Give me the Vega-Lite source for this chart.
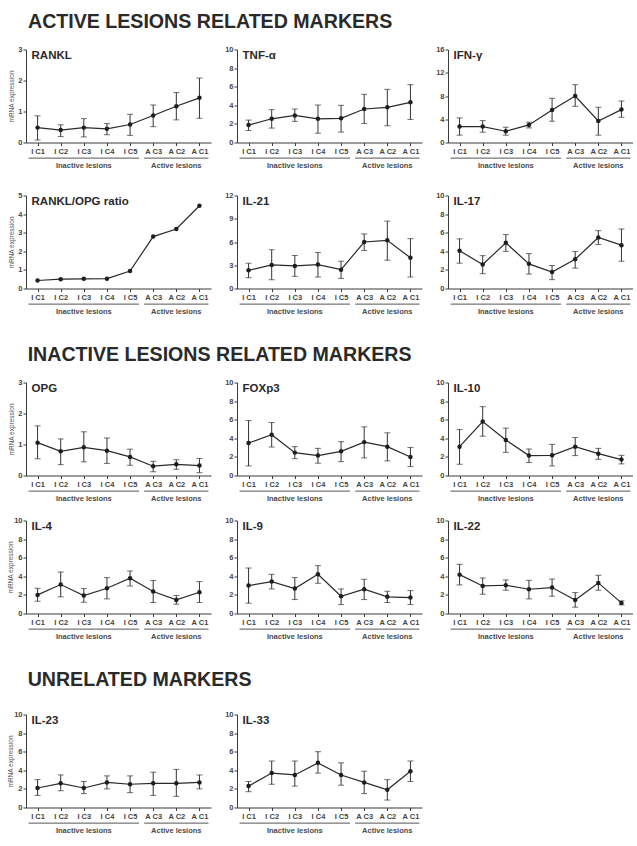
{
  "$schema": "https://vega.github.io/schema/vega-lite/v6.json",
  "padding": {"left": 7, "top": 11.5, "right": 0, "bottom": 0},
  "background": "white",
  "datasets": {
    "g": [
      {"g": "Inactive lesions", "a": "I C1", "b": "I C5", "c": "I C3"},
      {"g": "Active lesions", "a": "A C3", "b": "A C1", "c": "A C2"}
    ],
    "d": [
      {"m": "RANKL", "s": "I C1", "v": 0.48, "lo": 0.08, "hi": 0.86},
      {"m": "RANKL", "s": "I C2", "v": 0.40, "lo": 0.19, "hi": 0.57},
      {"m": "RANKL", "s": "I C3", "v": 0.48, "lo": 0.18, "hi": 0.77},
      {"m": "RANKL", "s": "I C4", "v": 0.44, "lo": 0.25, "hi": 0.61},
      {"m": "RANKL", "s": "I C5", "v": 0.58, "lo": 0.23, "hi": 0.91},
      {"m": "RANKL", "s": "A C3", "v": 0.87, "lo": 0.51, "hi": 1.21},
      {"m": "RANKL", "s": "A C2", "v": 1.17, "lo": 0.73, "hi": 1.61},
      {"m": "RANKL", "s": "A C1", "v": 1.44, "lo": 0.78, "hi": 2.08},
      {"m": "TNF", "s": "I C1", "v": 1.87, "lo": 1.29, "hi": 2.41},
      {"m": "TNF", "s": "I C2", "v": 2.55, "lo": 1.55, "hi": 3.53},
      {"m": "TNF", "s": "I C3", "v": 2.91, "lo": 2.27, "hi": 3.60},
      {"m": "TNF", "s": "I C4", "v": 2.55, "lo": 1.00, "hi": 4.03},
      {"m": "TNF", "s": "I C5", "v": 2.60, "lo": 1.12, "hi": 4.00},
      {"m": "TNF", "s": "A C3", "v": 3.60, "lo": 2.05, "hi": 5.18},
      {"m": "TNF", "s": "A C2", "v": 3.78, "lo": 1.80, "hi": 5.72},
      {"m": "TNF", "s": "A C1", "v": 4.32, "lo": 2.48, "hi": 6.22},
      {"m": "IFN", "s": "I C1", "v": 2.74, "lo": 1.26, "hi": 4.23},
      {"m": "IFN", "s": "I C2", "v": 2.74, "lo": 1.77, "hi": 3.77},
      {"m": "IFN", "s": "I C3", "v": 1.94, "lo": 1.26, "hi": 2.63},
      {"m": "IFN", "s": "I C4", "v": 3.03, "lo": 2.51, "hi": 3.49},
      {"m": "IFN", "s": "I C5", "v": 5.60, "lo": 3.66, "hi": 7.60},
      {"m": "IFN", "s": "A C3", "v": 8.00, "lo": 6.23, "hi": 9.94},
      {"m": "IFN", "s": "A C2", "v": 3.71, "lo": 1.26, "hi": 6.06},
      {"m": "IFN", "s": "A C1", "v": 5.66, "lo": 4.34, "hi": 7.14},
      {"m": "RATIO", "s": "I C1", "v": 0.43},
      {"m": "RATIO", "s": "I C2", "v": 0.50},
      {"m": "RATIO", "s": "I C3", "v": 0.52},
      {"m": "RATIO", "s": "I C4", "v": 0.53},
      {"m": "RATIO", "s": "I C5", "v": 0.94},
      {"m": "RATIO", "s": "A C3", "v": 2.79},
      {"m": "RATIO", "s": "A C2", "v": 3.20},
      {"m": "RATIO", "s": "A C1", "v": 4.45},
      {"m": "IL21", "s": "I C1", "v": 2.35, "lo": 1.39, "hi": 3.26},
      {"m": "IL21", "s": "I C2", "v": 3.04, "lo": 1.13, "hi": 5.00},
      {"m": "IL21", "s": "I C3", "v": 2.91, "lo": 1.57, "hi": 4.26},
      {"m": "IL21", "s": "I C4", "v": 3.09, "lo": 1.48, "hi": 4.65},
      {"m": "IL21", "s": "I C5", "v": 2.43, "lo": 1.30, "hi": 3.52},
      {"m": "IL21", "s": "A C3", "v": 6.00, "lo": 4.91, "hi": 7.04},
      {"m": "IL21", "s": "A C2", "v": 6.22, "lo": 3.65, "hi": 8.70},
      {"m": "IL21", "s": "A C1", "v": 3.96, "lo": 1.48, "hi": 6.43},
      {"m": "IL17", "s": "I C1", "v": 4.06, "lo": 2.72, "hi": 5.34},
      {"m": "IL17", "s": "I C2", "v": 2.58, "lo": 1.59, "hi": 3.53},
      {"m": "IL17", "s": "I C3", "v": 4.91, "lo": 3.99, "hi": 5.80},
      {"m": "IL17", "s": "I C4", "v": 2.65, "lo": 1.55, "hi": 3.75},
      {"m": "IL17", "s": "I C5", "v": 1.77, "lo": 0.95, "hi": 2.47},
      {"m": "IL17", "s": "A C3", "v": 3.14, "lo": 2.19, "hi": 3.99},
      {"m": "IL17", "s": "A C2", "v": 5.48, "lo": 4.73, "hi": 6.22},
      {"m": "IL17", "s": "A C1", "v": 4.66, "lo": 2.93, "hi": 6.40},
      {"m": "OPG", "s": "I C1", "v": 1.06, "lo": 0.54, "hi": 1.60},
      {"m": "OPG", "s": "I C2", "v": 0.78, "lo": 0.35, "hi": 1.18},
      {"m": "OPG", "s": "I C3", "v": 0.91, "lo": 0.44, "hi": 1.41},
      {"m": "OPG", "s": "I C4", "v": 0.80, "lo": 0.39, "hi": 1.21},
      {"m": "OPG", "s": "I C5", "v": 0.60, "lo": 0.33, "hi": 0.85},
      {"m": "OPG", "s": "A C3", "v": 0.30, "lo": 0.12, "hi": 0.46},
      {"m": "OPG", "s": "A C2", "v": 0.36, "lo": 0.20, "hi": 0.51},
      {"m": "OPG", "s": "A C1", "v": 0.32, "lo": 0.09, "hi": 0.55},
      {"m": "FOXP3", "s": "I C1", "v": 3.49, "lo": 1.03, "hi": 5.91},
      {"m": "FOXP3", "s": "I C2", "v": 4.38, "lo": 3.06, "hi": 5.69},
      {"m": "FOXP3", "s": "I C3", "v": 2.46, "lo": 1.81, "hi": 3.10},
      {"m": "FOXP3", "s": "I C4", "v": 2.14, "lo": 1.32, "hi": 2.92},
      {"m": "FOXP3", "s": "I C5", "v": 2.60, "lo": 1.49, "hi": 3.63},
      {"m": "FOXP3", "s": "A C3", "v": 3.59, "lo": 1.89, "hi": 5.23},
      {"m": "FOXP3", "s": "A C2", "v": 3.10, "lo": 1.57, "hi": 4.59},
      {"m": "FOXP3", "s": "A C1", "v": 1.99, "lo": 0.96, "hi": 3.02},
      {"m": "IL10", "s": "I C1", "v": 3.10, "lo": 1.21, "hi": 4.95},
      {"m": "IL10", "s": "I C2", "v": 5.80, "lo": 4.23, "hi": 7.40},
      {"m": "IL10", "s": "I C3", "v": 3.81, "lo": 2.49, "hi": 5.09},
      {"m": "IL10", "s": "I C4", "v": 2.14, "lo": 1.39, "hi": 2.85},
      {"m": "IL10", "s": "I C5", "v": 2.17, "lo": 1.03, "hi": 3.35},
      {"m": "IL10", "s": "A C3", "v": 3.10, "lo": 2.14, "hi": 4.09},
      {"m": "IL10", "s": "A C2", "v": 2.35, "lo": 1.74, "hi": 2.92},
      {"m": "IL10", "s": "A C1", "v": 1.71, "lo": 1.25, "hi": 2.17},
      {"m": "IL4", "s": "I C1", "v": 2.00, "lo": 1.32, "hi": 2.71},
      {"m": "IL4", "s": "I C2", "v": 3.11, "lo": 1.79, "hi": 4.46},
      {"m": "IL4", "s": "I C3", "v": 1.93, "lo": 1.21, "hi": 2.68},
      {"m": "IL4", "s": "I C4", "v": 2.71, "lo": 1.57, "hi": 3.86},
      {"m": "IL4", "s": "I C5", "v": 3.79, "lo": 2.96, "hi": 4.57},
      {"m": "IL4", "s": "A C3", "v": 2.36, "lo": 1.18, "hi": 3.54},
      {"m": "IL4", "s": "A C2", "v": 1.46, "lo": 1.00, "hi": 1.93},
      {"m": "IL4", "s": "A C1", "v": 2.29, "lo": 1.18, "hi": 3.43},
      {"m": "IL9", "s": "I C1", "v": 3.00, "lo": 1.11, "hi": 4.89},
      {"m": "IL9", "s": "I C2", "v": 3.43, "lo": 2.64, "hi": 4.21},
      {"m": "IL9", "s": "I C3", "v": 2.68, "lo": 1.50, "hi": 3.86},
      {"m": "IL9", "s": "I C4", "v": 4.21, "lo": 3.25, "hi": 5.14},
      {"m": "IL9", "s": "I C5", "v": 1.86, "lo": 0.96, "hi": 2.64},
      {"m": "IL9", "s": "A C3", "v": 2.61, "lo": 1.50, "hi": 3.68},
      {"m": "IL9", "s": "A C2", "v": 1.79, "lo": 1.18, "hi": 2.39},
      {"m": "IL9", "s": "A C1", "v": 1.71, "lo": 0.96, "hi": 2.46},
      {"m": "IL22", "s": "I C1", "v": 4.18, "lo": 3.07, "hi": 5.29},
      {"m": "IL22", "s": "I C2", "v": 2.96, "lo": 2.07, "hi": 3.82},
      {"m": "IL22", "s": "I C3", "v": 3.04, "lo": 2.50, "hi": 3.61},
      {"m": "IL22", "s": "I C4", "v": 2.61, "lo": 1.57, "hi": 3.57},
      {"m": "IL22", "s": "I C5", "v": 2.79, "lo": 1.86, "hi": 3.71},
      {"m": "IL22", "s": "A C3", "v": 1.46, "lo": 0.68, "hi": 2.25},
      {"m": "IL22", "s": "A C2", "v": 3.29, "lo": 2.50, "hi": 4.11},
      {"m": "IL22", "s": "A C1", "v": 1.14, "lo": 0.93, "hi": 1.36},
      {"m": "IL23", "s": "I C1", "v": 2.10, "lo": 1.30, "hi": 3.00},
      {"m": "IL23", "s": "I C2", "v": 2.60, "lo": 1.80, "hi": 3.50},
      {"m": "IL23", "s": "I C3", "v": 2.10, "lo": 1.50, "hi": 2.80},
      {"m": "IL23", "s": "I C4", "v": 2.70, "lo": 2.00, "hi": 3.40},
      {"m": "IL23", "s": "I C5", "v": 2.50, "lo": 1.60, "hi": 3.40},
      {"m": "IL23", "s": "A C3", "v": 2.60, "lo": 1.30, "hi": 3.80},
      {"m": "IL23", "s": "A C2", "v": 2.60, "lo": 1.20, "hi": 4.10},
      {"m": "IL23", "s": "A C1", "v": 2.70, "lo": 2.00, "hi": 3.50},
      {"m": "IL33", "s": "I C1", "v": 2.30, "lo": 1.70, "hi": 2.80},
      {"m": "IL33", "s": "I C2", "v": 3.70, "lo": 2.50, "hi": 5.00},
      {"m": "IL33", "s": "I C3", "v": 3.50, "lo": 2.30, "hi": 5.00},
      {"m": "IL33", "s": "I C4", "v": 4.80, "lo": 3.70, "hi": 6.00},
      {"m": "IL33", "s": "I C5", "v": 3.50, "lo": 2.40, "hi": 4.80},
      {"m": "IL33", "s": "A C3", "v": 2.70, "lo": 1.50, "hi": 3.90},
      {"m": "IL33", "s": "A C2", "v": 1.90, "lo": 0.80, "hi": 3.00},
      {"m": "IL33", "s": "A C1", "v": 3.90, "lo": 2.80, "hi": 5.00}
    ]
  },
  "config": {
    "view": {"stroke": null},
    "font": "Liberation Sans",
    "axis": {"grid": false, "domainColor": "#3a3a3a", "tickColor": "#3a3a3a", "tickSize": 3, "labelFontSize": 7.5, "labelFontWeight": "bold", "labelColor": "#444444", "labelFont": "Liberation Sans"},
    "axisX": {"labelAngle": 0, "labelPadding": 2, "labelOverlap": false},
    "axisY": {"labelPadding": 1, "titleFontSize": 6.5, "titleFontWeight": "normal", "titleColor": "#555555", "titlePadding": 0, "minExtent": 12, "titleFont": "Liberation Sans"},
    "title": {"anchor": "start", "fontSize": 19.6, "fontWeight": "bold", "color": "#2a2a2a", "offset": 13, "dx": 20, "font": "Liberation Sans"}
  },
  "spacing": 28,
  "vconcat": [
    {
      "title": "ACTIVE LESIONS RELATED MARKERS",
      "spacing": 21,
      "vconcat": [
        {"spacing": 13, "hconcat": [
          {"width": 185, "height": 93, "resolve": {"scale": {"y": "independent"}},
           "encoding": {"x": {"field": "s", "type": "nominal", "title": null, "scale": {"type": "point", "domain": ["I C1","I C2","I C3","I C4","I C5","A C3","A C2","A C1"], "padding": 0.5}}},
           "layer": [
             {"data": {"name": "d"}, "transform": [{"filter": "datum.m === 'RANKL'"}],
              "encoding": {"y": {"field": "v", "type": "quantitative", "title": "mRNA expression", "scale": {"domain": [0, 3], "nice": false}, "axis": {"values": [0, 1, 2, 3]}}},
              "layer": [
                {"mark": {"type": "errorbar", "ticks": {"size": 6, "color": "#333333"}, "rule": {"color": "#333333"}}, "encoding": {"y": {"field": "lo", "type": "quantitative", "title": "mRNA expression"}, "y2": {"field": "hi"}}},
                {"mark": {"type": "line", "color": "#2a2a2a", "strokeWidth": 1.2}},
                {"mark": {"type": "point", "filled": true, "size": 20, "color": "#1e1e1e", "opacity": 1}}
              ]},
             {"data": {"name": "g"}, "encoding": {"y": {"datum": -0.168, "type": "quantitative", "scale": {"domain": [0, 1]}, "axis": null}},
              "layer": [
                {"mark": {"type": "rule", "color": "#555555", "xOffset": -9, "x2Offset": 9}, "encoding": {"x": {"field": "a", "type": "nominal", "title": null}, "x2": {"field": "b"}}},
                {"mark": {"type": "text", "fontSize": 7.5, "fontWeight": "bold", "color": "#4a4a4a", "baseline": "middle"}, "encoding": {"x": {"field": "c", "type": "nominal", "title": null}, "y": {"datum": -0.256, "type": "quantitative", "scale": {"domain": [0, 1]}, "axis": null}, "text": {"field": "g"}}}
              ]},
             {"data": {"values": [{"t": "RANKL"}]}, "mark": {"type": "text", "align": "left", "baseline": "top", "dx": -6, "fontSize": 11.5, "fontWeight": "bold", "color": "#2a2a2a"},
              "encoding": {"x": {"datum": "I C1", "type": "nominal"}, "y": {"datum": 1, "type": "quantitative", "scale": {"domain": [0, 1]}, "axis": null}, "text": {"field": "t"}}}
           ]},
          {"width": 185, "height": 93, "resolve": {"scale": {"y": "independent"}},
           "encoding": {"x": {"field": "s", "type": "nominal", "title": null, "scale": {"type": "point", "domain": ["I C1","I C2","I C3","I C4","I C5","A C3","A C2","A C1"], "padding": 0.5}}},
           "layer": [
             {"data": {"name": "d"}, "transform": [{"filter": "datum.m === 'TNF'"}],
              "encoding": {"y": {"field": "v", "type": "quantitative", "title": null, "scale": {"domain": [0, 10], "nice": false}, "axis": {"values": [0, 2, 4, 6, 8, 10]}}},
              "layer": [
                {"mark": {"type": "errorbar", "ticks": {"size": 6, "color": "#333333"}, "rule": {"color": "#333333"}}, "encoding": {"y": {"field": "lo", "type": "quantitative", "title": null}, "y2": {"field": "hi"}}},
                {"mark": {"type": "line", "color": "#2a2a2a", "strokeWidth": 1.2}},
                {"mark": {"type": "point", "filled": true, "size": 20, "color": "#1e1e1e", "opacity": 1}}
              ]},
             {"data": {"name": "g"}, "encoding": {"y": {"datum": -0.168, "type": "quantitative", "scale": {"domain": [0, 1]}, "axis": null}},
              "layer": [
                {"mark": {"type": "rule", "color": "#555555", "xOffset": -9, "x2Offset": 9}, "encoding": {"x": {"field": "a", "type": "nominal", "title": null}, "x2": {"field": "b"}}},
                {"mark": {"type": "text", "fontSize": 7.5, "fontWeight": "bold", "color": "#4a4a4a", "baseline": "middle"}, "encoding": {"x": {"field": "c", "type": "nominal", "title": null}, "y": {"datum": -0.256, "type": "quantitative", "scale": {"domain": [0, 1]}, "axis": null}, "text": {"field": "g"}}}
              ]},
             {"data": {"values": [{"t": "TNF-α"}]}, "mark": {"type": "text", "align": "left", "baseline": "top", "dx": -6, "fontSize": 11.5, "fontWeight": "bold", "color": "#2a2a2a"},
              "encoding": {"x": {"datum": "I C1", "type": "nominal"}, "y": {"datum": 1, "type": "quantitative", "scale": {"domain": [0, 1]}, "axis": null}, "text": {"field": "t"}}}
           ]},
          {"width": 185, "height": 93, "resolve": {"scale": {"y": "independent"}},
           "encoding": {"x": {"field": "s", "type": "nominal", "title": null, "scale": {"type": "point", "domain": ["I C1","I C2","I C3","I C4","I C5","A C3","A C2","A C1"], "padding": 0.5}}},
           "layer": [
             {"data": {"name": "d"}, "transform": [{"filter": "datum.m === 'IFN'"}],
              "encoding": {"y": {"field": "v", "type": "quantitative", "title": null, "scale": {"domain": [0, 16], "nice": false}, "axis": {"values": [0, 4, 8, 12, 16]}}},
              "layer": [
                {"mark": {"type": "errorbar", "ticks": {"size": 6, "color": "#333333"}, "rule": {"color": "#333333"}}, "encoding": {"y": {"field": "lo", "type": "quantitative", "title": null}, "y2": {"field": "hi"}}},
                {"mark": {"type": "line", "color": "#2a2a2a", "strokeWidth": 1.2}},
                {"mark": {"type": "point", "filled": true, "size": 20, "color": "#1e1e1e", "opacity": 1}}
              ]},
             {"data": {"name": "g"}, "encoding": {"y": {"datum": -0.168, "type": "quantitative", "scale": {"domain": [0, 1]}, "axis": null}},
              "layer": [
                {"mark": {"type": "rule", "color": "#555555", "xOffset": -9, "x2Offset": 9}, "encoding": {"x": {"field": "a", "type": "nominal", "title": null}, "x2": {"field": "b"}}},
                {"mark": {"type": "text", "fontSize": 7.5, "fontWeight": "bold", "color": "#4a4a4a", "baseline": "middle"}, "encoding": {"x": {"field": "c", "type": "nominal", "title": null}, "y": {"datum": -0.256, "type": "quantitative", "scale": {"domain": [0, 1]}, "axis": null}, "text": {"field": "g"}}}
              ]},
             {"data": {"values": [{"t": "IFN-γ"}]}, "mark": {"type": "text", "align": "left", "baseline": "top", "dx": -6, "fontSize": 11.5, "fontWeight": "bold", "color": "#2a2a2a"},
              "encoding": {"x": {"datum": "I C1", "type": "nominal"}, "y": {"datum": 1, "type": "quantitative", "scale": {"domain": [0, 1]}, "axis": null}, "text": {"field": "t"}}}
           ]}
        ]},
        {"spacing": 13, "hconcat": [
          {"width": 185, "height": 93, "resolve": {"scale": {"y": "independent"}},
           "encoding": {"x": {"field": "s", "type": "nominal", "title": null, "scale": {"type": "point", "domain": ["I C1","I C2","I C3","I C4","I C5","A C3","A C2","A C1"], "padding": 0.5}}},
           "layer": [
             {"data": {"name": "d"}, "transform": [{"filter": "datum.m === 'RATIO'"}],
              "encoding": {"y": {"field": "v", "type": "quantitative", "title": "mRNA expression", "scale": {"domain": [0, 5], "nice": false}, "axis": {"values": [0, 1, 2, 3, 4, 5]}}},
              "layer": [
                {"mark": {"type": "line", "color": "#2a2a2a", "strokeWidth": 1.2}},
                {"mark": {"type": "point", "filled": true, "size": 20, "color": "#1e1e1e", "opacity": 1}}
              ]},
             {"data": {"name": "g"}, "encoding": {"y": {"datum": -0.168, "type": "quantitative", "scale": {"domain": [0, 1]}, "axis": null}},
              "layer": [
                {"mark": {"type": "rule", "color": "#555555", "xOffset": -9, "x2Offset": 9}, "encoding": {"x": {"field": "a", "type": "nominal", "title": null}, "x2": {"field": "b"}}},
                {"mark": {"type": "text", "fontSize": 7.5, "fontWeight": "bold", "color": "#4a4a4a", "baseline": "middle"}, "encoding": {"x": {"field": "c", "type": "nominal", "title": null}, "y": {"datum": -0.256, "type": "quantitative", "scale": {"domain": [0, 1]}, "axis": null}, "text": {"field": "g"}}}
              ]},
             {"data": {"values": [{"t": "RANKL/OPG ratio"}]}, "mark": {"type": "text", "align": "left", "baseline": "top", "dx": -6, "fontSize": 11.5, "fontWeight": "bold", "color": "#2a2a2a"},
              "encoding": {"x": {"datum": "I C1", "type": "nominal"}, "y": {"datum": 1, "type": "quantitative", "scale": {"domain": [0, 1]}, "axis": null}, "text": {"field": "t"}}}
           ]},
          {"width": 185, "height": 93, "resolve": {"scale": {"y": "independent"}},
           "encoding": {"x": {"field": "s", "type": "nominal", "title": null, "scale": {"type": "point", "domain": ["I C1","I C2","I C3","I C4","I C5","A C3","A C2","A C1"], "padding": 0.5}}},
           "layer": [
             {"data": {"name": "d"}, "transform": [{"filter": "datum.m === 'IL21'"}],
              "encoding": {"y": {"field": "v", "type": "quantitative", "title": null, "scale": {"domain": [0, 12], "nice": false}, "axis": {"values": [0, 3, 6, 9, 12]}}},
              "layer": [
                {"mark": {"type": "errorbar", "ticks": {"size": 6, "color": "#333333"}, "rule": {"color": "#333333"}}, "encoding": {"y": {"field": "lo", "type": "quantitative", "title": null}, "y2": {"field": "hi"}}},
                {"mark": {"type": "line", "color": "#2a2a2a", "strokeWidth": 1.2}},
                {"mark": {"type": "point", "filled": true, "size": 20, "color": "#1e1e1e", "opacity": 1}}
              ]},
             {"data": {"name": "g"}, "encoding": {"y": {"datum": -0.168, "type": "quantitative", "scale": {"domain": [0, 1]}, "axis": null}},
              "layer": [
                {"mark": {"type": "rule", "color": "#555555", "xOffset": -9, "x2Offset": 9}, "encoding": {"x": {"field": "a", "type": "nominal", "title": null}, "x2": {"field": "b"}}},
                {"mark": {"type": "text", "fontSize": 7.5, "fontWeight": "bold", "color": "#4a4a4a", "baseline": "middle"}, "encoding": {"x": {"field": "c", "type": "nominal", "title": null}, "y": {"datum": -0.256, "type": "quantitative", "scale": {"domain": [0, 1]}, "axis": null}, "text": {"field": "g"}}}
              ]},
             {"data": {"values": [{"t": "IL-21"}]}, "mark": {"type": "text", "align": "left", "baseline": "top", "dx": -6, "fontSize": 11.5, "fontWeight": "bold", "color": "#2a2a2a"},
              "encoding": {"x": {"datum": "I C1", "type": "nominal"}, "y": {"datum": 1, "type": "quantitative", "scale": {"domain": [0, 1]}, "axis": null}, "text": {"field": "t"}}}
           ]},
          {"width": 185, "height": 93, "resolve": {"scale": {"y": "independent"}},
           "encoding": {"x": {"field": "s", "type": "nominal", "title": null, "scale": {"type": "point", "domain": ["I C1","I C2","I C3","I C4","I C5","A C3","A C2","A C1"], "padding": 0.5}}},
           "layer": [
             {"data": {"name": "d"}, "transform": [{"filter": "datum.m === 'IL17'"}],
              "encoding": {"y": {"field": "v", "type": "quantitative", "title": null, "scale": {"domain": [0, 10], "nice": false}, "axis": {"values": [0, 2, 4, 6, 8, 10]}}},
              "layer": [
                {"mark": {"type": "errorbar", "ticks": {"size": 6, "color": "#333333"}, "rule": {"color": "#333333"}}, "encoding": {"y": {"field": "lo", "type": "quantitative", "title": null}, "y2": {"field": "hi"}}},
                {"mark": {"type": "line", "color": "#2a2a2a", "strokeWidth": 1.2}},
                {"mark": {"type": "point", "filled": true, "size": 20, "color": "#1e1e1e", "opacity": 1}}
              ]},
             {"data": {"name": "g"}, "encoding": {"y": {"datum": -0.168, "type": "quantitative", "scale": {"domain": [0, 1]}, "axis": null}},
              "layer": [
                {"mark": {"type": "rule", "color": "#555555", "xOffset": -9, "x2Offset": 9}, "encoding": {"x": {"field": "a", "type": "nominal", "title": null}, "x2": {"field": "b"}}},
                {"mark": {"type": "text", "fontSize": 7.5, "fontWeight": "bold", "color": "#4a4a4a", "baseline": "middle"}, "encoding": {"x": {"field": "c", "type": "nominal", "title": null}, "y": {"datum": -0.256, "type": "quantitative", "scale": {"domain": [0, 1]}, "axis": null}, "text": {"field": "g"}}}
              ]},
             {"data": {"values": [{"t": "IL-17"}]}, "mark": {"type": "text", "align": "left", "baseline": "top", "dx": -6, "fontSize": 11.5, "fontWeight": "bold", "color": "#2a2a2a"},
              "encoding": {"x": {"datum": "I C1", "type": "nominal"}, "y": {"datum": 1, "type": "quantitative", "scale": {"domain": [0, 1]}, "axis": null}, "text": {"field": "t"}}}
           ]}
        ]}
      ]
    },
    {
      "title": "INACTIVE LESIONS RELATED MARKERS",
      "spacing": 13,
      "vconcat": [
        {"spacing": 13, "hconcat": [
          {"width": 185, "height": 93, "resolve": {"scale": {"y": "independent"}},
           "encoding": {"x": {"field": "s", "type": "nominal", "title": null, "scale": {"type": "point", "domain": ["I C1","I C2","I C3","I C4","I C5","A C3","A C2","A C1"], "padding": 0.5}}},
           "layer": [
             {"data": {"name": "d"}, "transform": [{"filter": "datum.m === 'OPG'"}],
              "encoding": {"y": {"field": "v", "type": "quantitative", "title": "mRNA expression", "scale": {"domain": [0, 3], "nice": false}, "axis": {"values": [0, 1, 2, 3]}}},
              "layer": [
                {"mark": {"type": "errorbar", "ticks": {"size": 6, "color": "#333333"}, "rule": {"color": "#333333"}}, "encoding": {"y": {"field": "lo", "type": "quantitative", "title": "mRNA expression"}, "y2": {"field": "hi"}}},
                {"mark": {"type": "line", "color": "#2a2a2a", "strokeWidth": 1.2}},
                {"mark": {"type": "point", "filled": true, "size": 20, "color": "#1e1e1e", "opacity": 1}}
              ]},
             {"data": {"name": "g"}, "encoding": {"y": {"datum": -0.168, "type": "quantitative", "scale": {"domain": [0, 1]}, "axis": null}},
              "layer": [
                {"mark": {"type": "rule", "color": "#555555", "xOffset": -9, "x2Offset": 9}, "encoding": {"x": {"field": "a", "type": "nominal", "title": null}, "x2": {"field": "b"}}},
                {"mark": {"type": "text", "fontSize": 7.5, "fontWeight": "bold", "color": "#4a4a4a", "baseline": "middle"}, "encoding": {"x": {"field": "c", "type": "nominal", "title": null}, "y": {"datum": -0.256, "type": "quantitative", "scale": {"domain": [0, 1]}, "axis": null}, "text": {"field": "g"}}}
              ]},
             {"data": {"values": [{"t": "OPG"}]}, "mark": {"type": "text", "align": "left", "baseline": "top", "dx": -6, "fontSize": 11.5, "fontWeight": "bold", "color": "#2a2a2a"},
              "encoding": {"x": {"datum": "I C1", "type": "nominal"}, "y": {"datum": 1, "type": "quantitative", "scale": {"domain": [0, 1]}, "axis": null}, "text": {"field": "t"}}}
           ]},
          {"width": 185, "height": 93, "resolve": {"scale": {"y": "independent"}},
           "encoding": {"x": {"field": "s", "type": "nominal", "title": null, "scale": {"type": "point", "domain": ["I C1","I C2","I C3","I C4","I C5","A C3","A C2","A C1"], "padding": 0.5}}},
           "layer": [
             {"data": {"name": "d"}, "transform": [{"filter": "datum.m === 'FOXP3'"}],
              "encoding": {"y": {"field": "v", "type": "quantitative", "title": null, "scale": {"domain": [0, 10], "nice": false}, "axis": {"values": [0, 2, 4, 6, 8, 10]}}},
              "layer": [
                {"mark": {"type": "errorbar", "ticks": {"size": 6, "color": "#333333"}, "rule": {"color": "#333333"}}, "encoding": {"y": {"field": "lo", "type": "quantitative", "title": null}, "y2": {"field": "hi"}}},
                {"mark": {"type": "line", "color": "#2a2a2a", "strokeWidth": 1.2}},
                {"mark": {"type": "point", "filled": true, "size": 20, "color": "#1e1e1e", "opacity": 1}}
              ]},
             {"data": {"name": "g"}, "encoding": {"y": {"datum": -0.168, "type": "quantitative", "scale": {"domain": [0, 1]}, "axis": null}},
              "layer": [
                {"mark": {"type": "rule", "color": "#555555", "xOffset": -9, "x2Offset": 9}, "encoding": {"x": {"field": "a", "type": "nominal", "title": null}, "x2": {"field": "b"}}},
                {"mark": {"type": "text", "fontSize": 7.5, "fontWeight": "bold", "color": "#4a4a4a", "baseline": "middle"}, "encoding": {"x": {"field": "c", "type": "nominal", "title": null}, "y": {"datum": -0.256, "type": "quantitative", "scale": {"domain": [0, 1]}, "axis": null}, "text": {"field": "g"}}}
              ]},
             {"data": {"values": [{"t": "FOXp3"}]}, "mark": {"type": "text", "align": "left", "baseline": "top", "dx": -6, "fontSize": 11.5, "fontWeight": "bold", "color": "#2a2a2a"},
              "encoding": {"x": {"datum": "I C1", "type": "nominal"}, "y": {"datum": 1, "type": "quantitative", "scale": {"domain": [0, 1]}, "axis": null}, "text": {"field": "t"}}}
           ]},
          {"width": 185, "height": 93, "resolve": {"scale": {"y": "independent"}},
           "encoding": {"x": {"field": "s", "type": "nominal", "title": null, "scale": {"type": "point", "domain": ["I C1","I C2","I C3","I C4","I C5","A C3","A C2","A C1"], "padding": 0.5}}},
           "layer": [
             {"data": {"name": "d"}, "transform": [{"filter": "datum.m === 'IL10'"}],
              "encoding": {"y": {"field": "v", "type": "quantitative", "title": null, "scale": {"domain": [0, 10], "nice": false}, "axis": {"values": [0, 2, 4, 6, 8, 10]}}},
              "layer": [
                {"mark": {"type": "errorbar", "ticks": {"size": 6, "color": "#333333"}, "rule": {"color": "#333333"}}, "encoding": {"y": {"field": "lo", "type": "quantitative", "title": null}, "y2": {"field": "hi"}}},
                {"mark": {"type": "line", "color": "#2a2a2a", "strokeWidth": 1.2}},
                {"mark": {"type": "point", "filled": true, "size": 20, "color": "#1e1e1e", "opacity": 1}}
              ]},
             {"data": {"name": "g"}, "encoding": {"y": {"datum": -0.168, "type": "quantitative", "scale": {"domain": [0, 1]}, "axis": null}},
              "layer": [
                {"mark": {"type": "rule", "color": "#555555", "xOffset": -9, "x2Offset": 9}, "encoding": {"x": {"field": "a", "type": "nominal", "title": null}, "x2": {"field": "b"}}},
                {"mark": {"type": "text", "fontSize": 7.5, "fontWeight": "bold", "color": "#4a4a4a", "baseline": "middle"}, "encoding": {"x": {"field": "c", "type": "nominal", "title": null}, "y": {"datum": -0.256, "type": "quantitative", "scale": {"domain": [0, 1]}, "axis": null}, "text": {"field": "g"}}}
              ]},
             {"data": {"values": [{"t": "IL-10"}]}, "mark": {"type": "text", "align": "left", "baseline": "top", "dx": -6, "fontSize": 11.5, "fontWeight": "bold", "color": "#2a2a2a"},
              "encoding": {"x": {"datum": "I C1", "type": "nominal"}, "y": {"datum": 1, "type": "quantitative", "scale": {"domain": [0, 1]}, "axis": null}, "text": {"field": "t"}}}
           ]}
        ]},
        {"spacing": 13, "hconcat": [
          {"width": 185, "height": 93, "resolve": {"scale": {"y": "independent"}},
           "encoding": {"x": {"field": "s", "type": "nominal", "title": null, "scale": {"type": "point", "domain": ["I C1","I C2","I C3","I C4","I C5","A C3","A C2","A C1"], "padding": 0.5}}},
           "layer": [
             {"data": {"name": "d"}, "transform": [{"filter": "datum.m === 'IL4'"}],
              "encoding": {"y": {"field": "v", "type": "quantitative", "title": "mRNA expression", "scale": {"domain": [0, 10], "nice": false}, "axis": {"values": [0, 2, 4, 6, 8, 10]}}},
              "layer": [
                {"mark": {"type": "errorbar", "ticks": {"size": 6, "color": "#333333"}, "rule": {"color": "#333333"}}, "encoding": {"y": {"field": "lo", "type": "quantitative", "title": "mRNA expression"}, "y2": {"field": "hi"}}},
                {"mark": {"type": "line", "color": "#2a2a2a", "strokeWidth": 1.2}},
                {"mark": {"type": "point", "filled": true, "size": 20, "color": "#1e1e1e", "opacity": 1}}
              ]},
             {"data": {"name": "g"}, "encoding": {"y": {"datum": -0.168, "type": "quantitative", "scale": {"domain": [0, 1]}, "axis": null}},
              "layer": [
                {"mark": {"type": "rule", "color": "#555555", "xOffset": -9, "x2Offset": 9}, "encoding": {"x": {"field": "a", "type": "nominal", "title": null}, "x2": {"field": "b"}}},
                {"mark": {"type": "text", "fontSize": 7.5, "fontWeight": "bold", "color": "#4a4a4a", "baseline": "middle"}, "encoding": {"x": {"field": "c", "type": "nominal", "title": null}, "y": {"datum": -0.256, "type": "quantitative", "scale": {"domain": [0, 1]}, "axis": null}, "text": {"field": "g"}}}
              ]},
             {"data": {"values": [{"t": "IL-4"}]}, "mark": {"type": "text", "align": "left", "baseline": "top", "dx": -6, "fontSize": 11.5, "fontWeight": "bold", "color": "#2a2a2a"},
              "encoding": {"x": {"datum": "I C1", "type": "nominal"}, "y": {"datum": 1, "type": "quantitative", "scale": {"domain": [0, 1]}, "axis": null}, "text": {"field": "t"}}}
           ]},
          {"width": 185, "height": 93, "resolve": {"scale": {"y": "independent"}},
           "encoding": {"x": {"field": "s", "type": "nominal", "title": null, "scale": {"type": "point", "domain": ["I C1","I C2","I C3","I C4","I C5","A C3","A C2","A C1"], "padding": 0.5}}},
           "layer": [
             {"data": {"name": "d"}, "transform": [{"filter": "datum.m === 'IL9'"}],
              "encoding": {"y": {"field": "v", "type": "quantitative", "title": null, "scale": {"domain": [0, 10], "nice": false}, "axis": {"values": [0, 2, 4, 6, 8, 10]}}},
              "layer": [
                {"mark": {"type": "errorbar", "ticks": {"size": 6, "color": "#333333"}, "rule": {"color": "#333333"}}, "encoding": {"y": {"field": "lo", "type": "quantitative", "title": null}, "y2": {"field": "hi"}}},
                {"mark": {"type": "line", "color": "#2a2a2a", "strokeWidth": 1.2}},
                {"mark": {"type": "point", "filled": true, "size": 20, "color": "#1e1e1e", "opacity": 1}}
              ]},
             {"data": {"name": "g"}, "encoding": {"y": {"datum": -0.168, "type": "quantitative", "scale": {"domain": [0, 1]}, "axis": null}},
              "layer": [
                {"mark": {"type": "rule", "color": "#555555", "xOffset": -9, "x2Offset": 9}, "encoding": {"x": {"field": "a", "type": "nominal", "title": null}, "x2": {"field": "b"}}},
                {"mark": {"type": "text", "fontSize": 7.5, "fontWeight": "bold", "color": "#4a4a4a", "baseline": "middle"}, "encoding": {"x": {"field": "c", "type": "nominal", "title": null}, "y": {"datum": -0.256, "type": "quantitative", "scale": {"domain": [0, 1]}, "axis": null}, "text": {"field": "g"}}}
              ]},
             {"data": {"values": [{"t": "IL-9"}]}, "mark": {"type": "text", "align": "left", "baseline": "top", "dx": -6, "fontSize": 11.5, "fontWeight": "bold", "color": "#2a2a2a"},
              "encoding": {"x": {"datum": "I C1", "type": "nominal"}, "y": {"datum": 1, "type": "quantitative", "scale": {"domain": [0, 1]}, "axis": null}, "text": {"field": "t"}}}
           ]},
          {"width": 185, "height": 93, "resolve": {"scale": {"y": "independent"}},
           "encoding": {"x": {"field": "s", "type": "nominal", "title": null, "scale": {"type": "point", "domain": ["I C1","I C2","I C3","I C4","I C5","A C3","A C2","A C1"], "padding": 0.5}}},
           "layer": [
             {"data": {"name": "d"}, "transform": [{"filter": "datum.m === 'IL22'"}],
              "encoding": {"y": {"field": "v", "type": "quantitative", "title": null, "scale": {"domain": [0, 10], "nice": false}, "axis": {"values": [0, 2, 4, 6, 8, 10]}}},
              "layer": [
                {"mark": {"type": "errorbar", "ticks": {"size": 6, "color": "#333333"}, "rule": {"color": "#333333"}}, "encoding": {"y": {"field": "lo", "type": "quantitative", "title": null}, "y2": {"field": "hi"}}},
                {"mark": {"type": "line", "color": "#2a2a2a", "strokeWidth": 1.2}},
                {"mark": {"type": "point", "filled": true, "size": 20, "color": "#1e1e1e", "opacity": 1}}
              ]},
             {"data": {"name": "g"}, "encoding": {"y": {"datum": -0.168, "type": "quantitative", "scale": {"domain": [0, 1]}, "axis": null}},
              "layer": [
                {"mark": {"type": "rule", "color": "#555555", "xOffset": -9, "x2Offset": 9}, "encoding": {"x": {"field": "a", "type": "nominal", "title": null}, "x2": {"field": "b"}}},
                {"mark": {"type": "text", "fontSize": 7.5, "fontWeight": "bold", "color": "#4a4a4a", "baseline": "middle"}, "encoding": {"x": {"field": "c", "type": "nominal", "title": null}, "y": {"datum": -0.256, "type": "quantitative", "scale": {"domain": [0, 1]}, "axis": null}, "text": {"field": "g"}}}
              ]},
             {"data": {"values": [{"t": "IL-22"}]}, "mark": {"type": "text", "align": "left", "baseline": "top", "dx": -6, "fontSize": 11.5, "fontWeight": "bold", "color": "#2a2a2a"},
              "encoding": {"x": {"datum": "I C1", "type": "nominal"}, "y": {"datum": 1, "type": "quantitative", "scale": {"domain": [0, 1]}, "axis": null}, "text": {"field": "t"}}}
           ]}
        ]}
      ]
    },
    {
      "title": {"text": "UNRELATED MARKERS", "offset": 19.5},
      "vconcat": [
        {"spacing": 13, "hconcat": [
          {"width": 185, "height": 93, "resolve": {"scale": {"y": "independent"}},
           "encoding": {"x": {"field": "s", "type": "nominal", "title": null, "scale": {"type": "point", "domain": ["I C1","I C2","I C3","I C4","I C5","A C3","A C2","A C1"], "padding": 0.5}}},
           "layer": [
             {"data": {"name": "d"}, "transform": [{"filter": "datum.m === 'IL23'"}],
              "encoding": {"y": {"field": "v", "type": "quantitative", "title": "mRNA expression", "scale": {"domain": [0, 10], "nice": false}, "axis": {"values": [0, 2, 4, 6, 8, 10]}}},
              "layer": [
                {"mark": {"type": "errorbar", "ticks": {"size": 6, "color": "#333333"}, "rule": {"color": "#333333"}}, "encoding": {"y": {"field": "lo", "type": "quantitative", "title": "mRNA expression"}, "y2": {"field": "hi"}}},
                {"mark": {"type": "line", "color": "#2a2a2a", "strokeWidth": 1.2}},
                {"mark": {"type": "point", "filled": true, "size": 20, "color": "#1e1e1e", "opacity": 1}}
              ]},
             {"data": {"name": "g"}, "encoding": {"y": {"datum": -0.168, "type": "quantitative", "scale": {"domain": [0, 1]}, "axis": null}},
              "layer": [
                {"mark": {"type": "rule", "color": "#555555", "xOffset": -9, "x2Offset": 9}, "encoding": {"x": {"field": "a", "type": "nominal", "title": null}, "x2": {"field": "b"}}},
                {"mark": {"type": "text", "fontSize": 7.5, "fontWeight": "bold", "color": "#4a4a4a", "baseline": "middle"}, "encoding": {"x": {"field": "c", "type": "nominal", "title": null}, "y": {"datum": -0.256, "type": "quantitative", "scale": {"domain": [0, 1]}, "axis": null}, "text": {"field": "g"}}}
              ]},
             {"data": {"values": [{"t": "IL-23"}]}, "mark": {"type": "text", "align": "left", "baseline": "top", "dx": -6, "fontSize": 11.5, "fontWeight": "bold", "color": "#2a2a2a"},
              "encoding": {"x": {"datum": "I C1", "type": "nominal"}, "y": {"datum": 1, "type": "quantitative", "scale": {"domain": [0, 1]}, "axis": null}, "text": {"field": "t"}}}
           ]},
          {"width": 185, "height": 93, "resolve": {"scale": {"y": "independent"}},
           "encoding": {"x": {"field": "s", "type": "nominal", "title": null, "scale": {"type": "point", "domain": ["I C1","I C2","I C3","I C4","I C5","A C3","A C2","A C1"], "padding": 0.5}}},
           "layer": [
             {"data": {"name": "d"}, "transform": [{"filter": "datum.m === 'IL33'"}],
              "encoding": {"y": {"field": "v", "type": "quantitative", "title": null, "scale": {"domain": [0, 10], "nice": false}, "axis": {"values": [0, 2, 4, 6, 8, 10]}}},
              "layer": [
                {"mark": {"type": "errorbar", "ticks": {"size": 6, "color": "#333333"}, "rule": {"color": "#333333"}}, "encoding": {"y": {"field": "lo", "type": "quantitative", "title": null}, "y2": {"field": "hi"}}},
                {"mark": {"type": "line", "color": "#2a2a2a", "strokeWidth": 1.2}},
                {"mark": {"type": "point", "filled": true, "size": 20, "color": "#1e1e1e", "opacity": 1}}
              ]},
             {"data": {"name": "g"}, "encoding": {"y": {"datum": -0.168, "type": "quantitative", "scale": {"domain": [0, 1]}, "axis": null}},
              "layer": [
                {"mark": {"type": "rule", "color": "#555555", "xOffset": -9, "x2Offset": 9}, "encoding": {"x": {"field": "a", "type": "nominal", "title": null}, "x2": {"field": "b"}}},
                {"mark": {"type": "text", "fontSize": 7.5, "fontWeight": "bold", "color": "#4a4a4a", "baseline": "middle"}, "encoding": {"x": {"field": "c", "type": "nominal", "title": null}, "y": {"datum": -0.256, "type": "quantitative", "scale": {"domain": [0, 1]}, "axis": null}, "text": {"field": "g"}}}
              ]},
             {"data": {"values": [{"t": "IL-33"}]}, "mark": {"type": "text", "align": "left", "baseline": "top", "dx": -6, "fontSize": 11.5, "fontWeight": "bold", "color": "#2a2a2a"},
              "encoding": {"x": {"datum": "I C1", "type": "nominal"}, "y": {"datum": 1, "type": "quantitative", "scale": {"domain": [0, 1]}, "axis": null}, "text": {"field": "t"}}}
           ]}
        ]}
      ]
    }
  ]
}
